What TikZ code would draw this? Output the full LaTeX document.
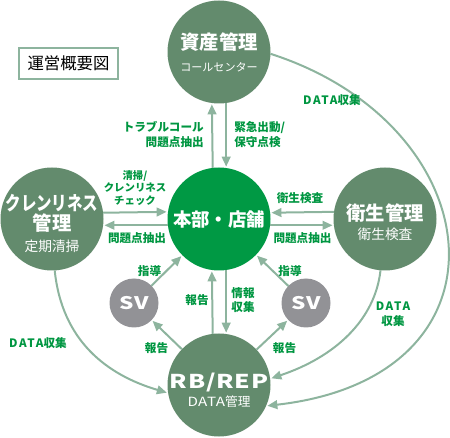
\documentclass[tikz,border=0pt]{standalone}
\usepackage{fontspec}
\usepackage{graphicx}
\usepackage{xcolor}
\usepackage{tikz}
\usetikzlibrary{arrows.meta}
\setmainfont{Noto Sans CJK JP}
\definecolor{mgreen}{RGB}{99, 139, 109}
\definecolor{hgreen}{RGB}{0, 153, 68}
\definecolor{svgray}{RGB}{146, 146, 150}
\definecolor{arrgreen}{RGB}{141, 180, 158}
\definecolor{lblgreen}{RGB}{0, 150, 65}
\newcommand{\wide}[1]{{\addfontfeature{LetterSpace=14}#1}}
\newcommand{\fat}[2]{\scalebox{#1}[1]{\addfontfeature{LetterSpace=3}#2}}

\begin{document}
\begin{tikzpicture}[x=0.75pt,y=0.75pt,yscale=-1,xscale=1,
  bigcirc/.style={circle, fill=mgreen, minimum size=77.25pt, inner sep=0pt, outer sep=0pt},
  hqcirc/.style={bigcirc, fill=hgreen},
  svcirc/.style={circle, fill=svgray, minimum size=36.75pt, inner sep=0pt, outer sep=0pt},
  arr/.style={draw=arrgreen, line width=1.5pt, -{Triangle[length=7.5pt,width=6.5pt]}, shorten >=1pt},
  lbl/.style={text=lblgreen, font=\fontsize{8.7}{11}\selectfont\bfseries, inner sep=0.75pt},
  ttl/.style={text=white, font=\fontsize{14.5}{17}\selectfont\bfseries, inner sep=0pt},
  subtxt/.style={text=white, font=\fontsize{10.3}{12}\selectfont, inner sep=0pt}]
\useasboundingbox (0,0) rectangle (450,438);

%Circles
\node[bigcirc] (asset) at (219,52) {};
\node[bigcirc] (clean) at (52,219) {};
\node[bigcirc] (hyg) at (385,219) {};
\node[hqcirc] (hq) at (219,219) {};
\node[bigcirc] (rb) at (219,385) {};
\node[svcirc] (svl) at (134,303) {};
\node[svcirc] (svr) at (306,303) {};

% Title box
\node[draw=arrgreen, line width=1.9pt, minimum width=74.25pt, minimum height=23.25pt, inner sep=0pt, font=\fontsize{12.3}{14}\selectfont] (title) at (68.5,63.5) {運営概要図};

% Circle texts
\node[ttl] (asset-t) at (219,42) {資産管理};
\node[subtxt, font=\fontsize{8.3}{10}\selectfont] (asset-s) at (219,67) {コールセンター};
\node[ttl] (clean-t1) at (52,203) {\scalebox{0.8}[1]{クレンリネス}};
\node[ttl] (clean-t2) at (52,223) {管理};
\node[subtxt] (clean-s) at (52,246) {定期清掃};
\node[ttl] (hyg-t) at (385,213) {衛生管理};
\node[subtxt] (hyg-s) at (385,234) {衛生検査};
\node[ttl, font=\fontsize{13.8}{16}\selectfont\bfseries] (hq-t) at (219,220) {本部・店舗};
\node[ttl, font=\fontsize{14.3}{16}\selectfont\bfseries] (rb-t) at (219,382) {\fat{1.3}{RB/REP}};
\node[subtxt, font=\fontsize{9.5}{11}\selectfont] (rb-s) at (219,402) {\fat{1.2}{DATA}管理};
\node[ttl, font=\fontsize{13}{15}\selectfont\bfseries] (svl-t) at (134,303) {\fat{1.3}{SV}};
\node[ttl, font=\fontsize{13}{15}\selectfont\bfseries] (svr-t) at (306,303) {\fat{1.3}{SV}};

%Straight Lines
\draw[arr] (hq.97.8) -- (asset.262.2);
\draw[arr] (asset.-82.2) -- (hq.82.2);
\draw[arr] (clean.7.8) -- (hq.172.2);
\draw[arr] (hq.187.8) -- (clean.-7.8);
\draw[arr] (hyg.172.2) -- (hq.7.8);
\draw[arr] (hq.-7.8) -- (hyg.187.8);
\draw[arr] (rb.97.8) -- (hq.262.2);
\draw[arr] (hq.-82.2) -- (rb.82.2);
\draw[arr] (svl) -- (hq);
\draw[arr] (rb) -- (svl);
\draw[arr] (svr) -- (hq);
\draw[arr] (rb) -- (svr);

%Curve Lines
\draw[arr] (asset.-2) .. controls (492,125) and (522,377) .. (rb.-24);
\draw[arr] (clean.-87) .. controls (62,341) and (107,375) .. (rb.-171);
\draw[arr] (hyg.-95) .. controls (375,320) and (335,357) .. (rb.7);

% Text Node
\node[lbl, anchor=east, align=right] (trouble) at (205,134.5) {トラブルコール\\問題点抽出};
\node[lbl, anchor=west, align=left] (rescue) at (233,134.5) {緊急出動/\\保守点検};
\node[lbl, align=center, font=\fontsize{7.8}{9.4}\selectfont\bfseries] (check) at (135,188) {清掃/\\クレンリネス\\チェック};
\node[lbl] (clean-issue) at (137,238) {問題点抽出};
\node[lbl] (inspect) at (300,198) {衛生検査};
\node[lbl] (hyg-issue) at (302.5,238) {問題点抽出};
\node[lbl] (guide-l) at (149.5,271) {指導};
\node[lbl] (guide-r) at (290,271) {指導};
\node[lbl] (report-c) at (197,300) {報告};
\node[lbl, align=left] (collect) at (243,300) {情報\\収集};
\node[lbl] (report-l) at (156.5,348) {報告};
\node[lbl] (report-r) at (284.5,348) {報告};
\node[lbl] (data-top) at (332,100) {\wide{DATA}収集};
\node[lbl] (data-left) at (38,343) {\wide{DATA}収集};
\node[lbl, align=center] (data-right) at (393,314.5) {\wide{DATA}\\収集};

\end{tikzpicture}
\end{document}
